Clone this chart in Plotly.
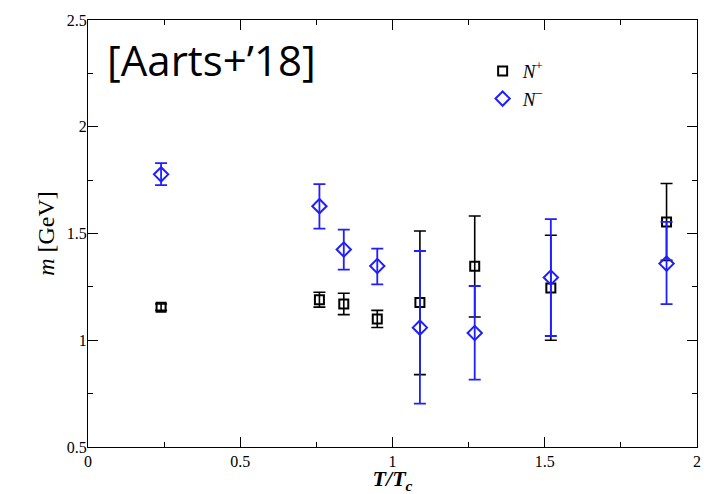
import plotly.graph_objects as go

# Data
T_over_Tc = [0.24, 0.76, 0.84, 0.95, 1.09, 1.27, 1.52, 1.90]

m_plus = [1.155, 1.19, 1.17, 1.10, 1.177, 1.347, 1.245, 1.554]
m_plus_err_up = [0.015, 0.035, 0.05, 0.04, 0.335, 0.235, 0.247, 0.18]
m_plus_err_dn = [0.015, 0.035, 0.05, 0.04, 0.338, 0.238, 0.245, 0.18]

m_minus = [1.777, 1.628, 1.425, 1.348, 1.059, 1.034, 1.294, 1.359]
m_minus_err_up = [0.053, 0.103, 0.093, 0.081, 0.359, 0.22, 0.273, 0.195]
m_minus_err_dn = [0.05, 0.105, 0.094, 0.086, 0.356, 0.218, 0.274, 0.19]

x_ticks = [0, 0.5, 1, 1.5, 2]
x_tick_labels = ["0", "0.5", "1", "1.5", "2"]
y_ticks = [0.5, 1, 1.5, 2, 2.5]
y_tick_labels = ["0.5", "1", "1.5", "2", "2.5"]

BLUE = "#1f1fff"
SERIF = "Liberation Serif, Times New Roman, serif"

fig = go.Figure()

fig.add_trace(go.Scatter(
    x=T_over_Tc, y=m_plus, mode="markers",
    name="<i>N</i><sup>+</sup>",
    marker=dict(symbol="square-open", size=9, color="black", line=dict(width=2, color="black")),
    error_y=dict(type="data", symmetric=False, array=m_plus_err_up, arrayminus=m_plus_err_dn,
                 color="black", thickness=1.6, width=6),
))
fig.add_trace(go.Scatter(
    x=T_over_Tc, y=m_minus, mode="markers",
    name="<i>N</i><sup>−</sup>",
    marker=dict(symbol="diamond-open", size=11, color=BLUE, line=dict(width=2, color=BLUE)),
    error_y=dict(type="data", symmetric=False, array=m_minus_err_up, arrayminus=m_minus_err_dn,
                 color=BLUE, thickness=1.8, width=6),
))

axis_common = dict(
    showline=True, linecolor="black", linewidth=1.2, mirror="allticks",
    ticks="inside", ticklen=10, tickwidth=1, tickcolor="black",
    showgrid=False, zeroline=False, automargin=False,
    tickfont=dict(family=SERIF, size=16, color="black"),
)

fig.update_xaxes(
    range=[0, 2], tickvals=x_ticks, ticktext=x_tick_labels,
    minor=dict(ticks="inside", ticklen=5, tickwidth=1, tickcolor="black", dtick=0.25, showgrid=False),
    title=dict(text="<b><i>T/T</i><sub><i>c</i></sub></b>", font=dict(family=SERIF, size=22, color="black"), standoff=4),
    ticklabelstandoff=0,
    **axis_common,
)
fig.update_yaxes(
    range=[0.5, 2.5], tickvals=y_ticks, ticktext=y_tick_labels,
    minor=dict(ticks="inside", ticklen=5, tickwidth=1, tickcolor="black", dtick=0.25, showgrid=False),
    title=dict(text="<i>m</i> [GeV]", font=dict(family=SERIF, size=24, color="black"), standoff=5),
    ticklabelstandoff=-3,
    **axis_common,
)

fig.add_annotation(
    x=0.028, y=0.98, xref="paper", yref="paper", xanchor="left", yanchor="top",
    text="[Aarts+’18]", showarrow=False,
    font=dict(family="Open Sans, Noto Sans, sans-serif", size=42, color="black"),
)

fig.update_layout(
    width=717, height=494,
    margin=dict(l=88, r=20, t=20, b=47),
    plot_bgcolor="white", paper_bgcolor="white",
    showlegend=True,
    legend=dict(x=0.648, y=0.925, xanchor="left", yanchor="top",
                bgcolor="rgba(0,0,0,0)", font=dict(family=SERIF, size=19, color="black"),
                itemwidth=30, tracegroupgap=0),
)

fig.write_html("out.html", config={"displayModeBar": False},
               post_script="document.body.style.margin='0px';document.body.style.padding='0px';")
